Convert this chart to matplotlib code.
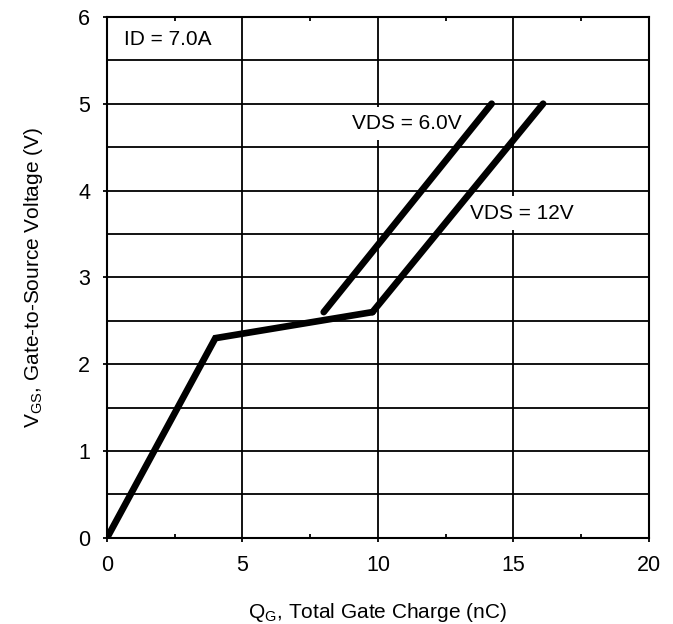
import matplotlib
matplotlib.use("Agg")
import matplotlib.pyplot as plt
from matplotlib.ticker import MultipleLocator

plt.rcParams['font.family'] = ['Liberation Sans', 'DejaVu Sans']
plt.rcParams['mathtext.fontset'] = 'custom'
plt.rcParams['mathtext.rm'] = 'Liberation Sans'

# Data (QG in nC, VGS in V)
qg_common = [0.0, 4.0, 9.8]
vgs_common = [0.0, 2.3, 2.6]
qg_6v = [8.0, 14.2]
vgs_6v = [2.6, 5.0]
qg_12v = [9.8, 16.1]
vgs_12v = [2.6, 5.0]

x_ticks = [0, 5, 10, 15, 20]
y_ticks = [0, 1, 2, 3, 4, 5, 6]

fig = plt.figure(figsize=(6.73, 6.24), dpi=100)
ax = fig.add_axes([0.159, 0.138, 0.805, 0.835])

lw = 4.8
ax.plot(qg_common, vgs_common, color='black', lw=lw, solid_capstyle='round', solid_joinstyle='miter', zorder=5)
ax.plot(qg_6v, vgs_6v, color='black', lw=lw, solid_capstyle='round', zorder=5)
ax.plot(qg_12v, vgs_12v, color='black', lw=lw, solid_capstyle='round', zorder=5)

ax.set_xlim(0, 20)
ax.set_ylim(0, 6)
ax.set_xticks(x_ticks)
ax.set_yticks(y_ticks)
ax.xaxis.set_minor_locator(MultipleLocator(2.5))
ax.yaxis.set_minor_locator(MultipleLocator(0.5))

ax.grid(True, which='major', axis='x', color='black', lw=1.3, zorder=1)
ax.grid(True, which='both', axis='y', color='black', lw=1.3, zorder=1)
ax.set_axisbelow(True)

ax.tick_params(axis='both', which='major', direction='out', length=3, width=1.3,
               labelsize=15.5, colors='black', pad=9)
ax.tick_params(axis='x', which='minor', direction='in', length=3, width=1.3, top=True)
ax.tick_params(axis='y', which='minor', length=0)
for s in ax.spines.values():
    s.set_linewidth(1.5)
    s.set_color('black')

ax.set_xlabel(r'Q$_{\mathregular{G}}$, Total Gate Charge (nC)', fontsize=15, labelpad=18)
ax.set_ylabel(r'V$_{\mathregular{GS}}$, Gate-to-Source Voltage (V)', fontsize=15, labelpad=24)

box = dict(boxstyle='square,pad=0.35', facecolor='white', edgecolor='none')
ax.text(2.25, 5.74, 'ID = 7.0A', fontsize=15, ha='center', va='center', zorder=3)
ax.text(11.05, 4.77, 'VDS = 6.0V', fontsize=15, ha='center', va='center', bbox=box, zorder=3)
ax.text(15.3, 3.74, 'VDS = 12V', fontsize=15, ha='center', va='center', bbox=box, zorder=3)

fig.savefig('out.png', dpi=100, facecolor='white')
